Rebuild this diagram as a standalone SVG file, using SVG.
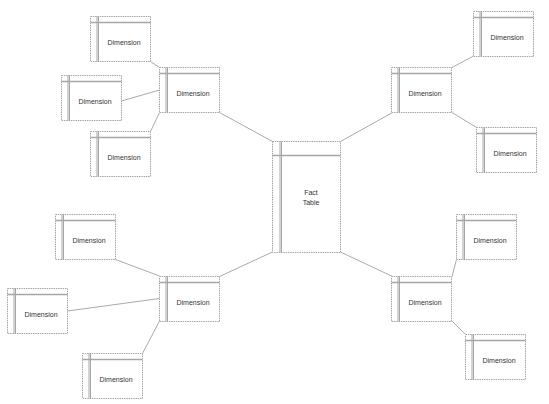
<svg xmlns="http://www.w3.org/2000/svg" xmlns:xlink="http://www.w3.org/1999/xlink" width="549" height="404" viewBox="0 0 549 404">
<style>
.frame{fill:#fff;stroke:#a6a6a6;stroke-width:1;stroke-dasharray:1.5,0.8}
.inner{stroke:#a6a6a6;stroke-width:1;fill:none}
.hdr{stroke:#a6a6a6;stroke-width:1.4;fill:none}
.lbl{font-family:"Liberation Sans",Arial,sans-serif;font-size:7px;fill:#333;text-anchor:middle}
.conn line{stroke:#a0a0a0;stroke-width:0.9}
</style>
<defs>
<g id="dimbox">
<rect class="frame" x="0.5" y="0.5" width="60" height="45"/>
<line class="hdr" x1="0.5" y1="6.5" x2="60.5" y2="6.5"/>
<line class="inner" x1="7" y1="0.5" x2="7" y2="45.5"/>
<line class="inner" x1="8.5" y1="0.5" x2="8.5" y2="45.5"/>
</g>
</defs>
<rect width="549" height="404" fill="#fff"/>
<g id="connectors" class="conn">
<line x1="150.5" y1="61.5" x2="159.5" y2="67.5"/>
<line x1="121.5" y1="101" x2="159.5" y2="90"/>
<line x1="150.5" y1="131.5" x2="159.5" y2="112.5"/>
<line x1="219.5" y1="112.5" x2="272.5" y2="141.5"/>
<line x1="340.5" y1="141.5" x2="392.5" y2="112.5"/>
<line x1="452" y1="67.5" x2="473.5" y2="56"/>
<line x1="452" y1="112.5" x2="476.5" y2="127.5"/>
<line x1="340.5" y1="252" x2="392.5" y2="276.5"/>
<line x1="272.5" y1="252" x2="219.5" y2="276.5"/>
<line x1="115.5" y1="259.5" x2="159.5" y2="276"/>
<line x1="67.5" y1="311" x2="159.5" y2="298.5"/>
<line x1="142.5" y1="353.5" x2="159.5" y2="321"/>
<line x1="456.5" y1="259.5" x2="452" y2="276.5"/>
<line x1="452" y1="321" x2="465.5" y2="334.5"/>
</g>
<g id="fact">
<rect class="frame" x="272.5" y="141.5" width="68" height="111"/>
<line class="hdr" x1="272.5" y1="155.5" x2="340.5" y2="155.5"/>
<line class="inner" x1="280" y1="141.5" x2="280" y2="252.5"/>
<line class="inner" x1="281.5" y1="141.5" x2="281.5" y2="252.5"/>
<text class="lbl" x="311" y="194.5">Fact</text>
<text class="lbl" x="311" y="204.5">Table</text>
</g>
<g id="dim_tl_1" transform="translate(90,16)"><use xlink:href="#dimbox"/><text class="lbl" x="34" y="29">Dimension</text></g>
<g id="dim_tl_2" transform="translate(61,75)"><use xlink:href="#dimbox"/><text class="lbl" x="34" y="29">Dimension</text></g>
<g id="dim_tl_3" transform="translate(90,131)"><use xlink:href="#dimbox"/><text class="lbl" x="34" y="29">Dimension</text></g>
<g id="hub_tl" transform="translate(159,67)"><use xlink:href="#dimbox"/><text class="lbl" x="34" y="29">Dimension</text></g>
<g id="dim_tr_1" transform="translate(473,11)"><use xlink:href="#dimbox"/><text class="lbl" x="34" y="29">Dimension</text></g>
<g id="hub_tr" transform="translate(391,67)"><use xlink:href="#dimbox"/><text class="lbl" x="34" y="29">Dimension</text></g>
<g id="dim_tr_2" transform="translate(476,127)"><use xlink:href="#dimbox"/><text class="lbl" x="34" y="29">Dimension</text></g>
<g id="dim_bl_1" transform="translate(55,214)"><use xlink:href="#dimbox"/><text class="lbl" x="34" y="29">Dimension</text></g>
<g id="hub_bl" transform="translate(159,276)"><use xlink:href="#dimbox"/><text class="lbl" x="34" y="29">Dimension</text></g>
<g id="dim_bl_2" transform="translate(7,288)"><use xlink:href="#dimbox"/><text class="lbl" x="34" y="29">Dimension</text></g>
<g id="dim_bl_3" transform="translate(82,353)"><use xlink:href="#dimbox"/><text class="lbl" x="34" y="29">Dimension</text></g>
<g id="dim_br_1" transform="translate(456,214)"><use xlink:href="#dimbox"/><text class="lbl" x="34" y="29">Dimension</text></g>
<g id="hub_br" transform="translate(391,276)"><use xlink:href="#dimbox"/><text class="lbl" x="34" y="29">Dimension</text></g>
<g id="dim_br_2" transform="translate(465,334)"><use xlink:href="#dimbox"/><text class="lbl" x="34" y="29">Dimension</text></g>
</svg>
